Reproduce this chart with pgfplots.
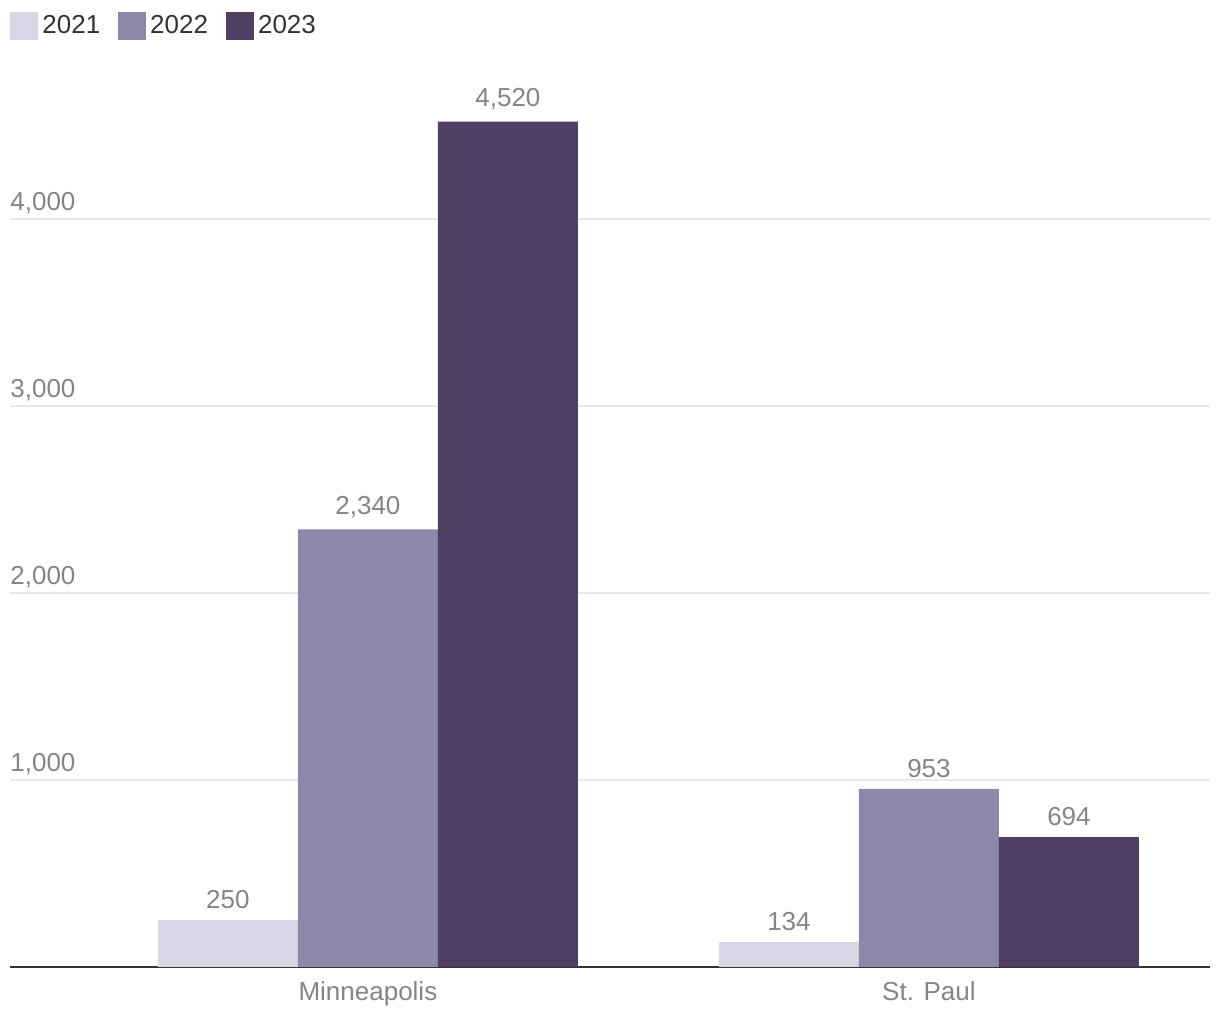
\documentclass[border=0pt]{standalone}
\usepackage{fontspec}
\setmainfont{Liberation Sans}
\usepackage{pgfplots}
\pgfplotsset{compat=1.18}
\definecolor{c21}{HTML}{D9D7E5}
\definecolor{c22}{HTML}{8D87A8}
\definecolor{c23}{HTML}{4E3F63}
\definecolor{txtGray}{HTML}{858585}
\definecolor{gridGray}{HTML}{E8E8E8}
\definecolor{axisDark}{HTML}{333333}

\begin{document}
\begin{tikzpicture}
\useasboundingbox (0,0) rectangle (610pt,510pt);
\begin{axis}[
    at={(5pt,26.5pt)}, anchor=south west,
    scale only axis,
    width=600pt, height=453.5pt,
    ybar=0pt, bar width=70pt,
    xmin=-0.638, xmax=1.501,
    ymin=0, ymax=4850,
    xtick={0,1},
    xticklabels={Minneapolis,St. Paul},
    ytick={1000,2000,3000,4000},
    major tick length=0pt,
    axis x line=bottom, axis y line=left,
    x axis line style={axisDark, line width=1pt, -},
    y axis line style={draw=none},
    ymajorgrids,
    grid style={gridGray, line width=0.9pt},
    /pgf/number format/assume math mode=true,
    /pgf/number format/1000 sep={,},
    tick label style={font=\fontsize{13}{15}\selectfont, text=txtGray},
    yticklabel style={anchor=south west, inner xsep=0pt, inner ysep=2.5pt, xshift=0pt},
    xticklabel style={yshift=-4pt},
    nodes near coords,
    nodes near coords style={font=\fontsize{13}{15}\selectfont, text=txtGray, inner ysep=5.5pt},
    every node near coord/.append style={/pgf/number format/assume math mode=true, /pgf/number format/1000 sep={,}},
    legend columns=3,
    legend style={at={(0,1)}, anchor=south west, yshift=7.5pt, draw=none, fill=none,
      font=\fontsize{13}{15}\selectfont, text=axisDark, inner xsep=0pt,
      /tikz/every even column/.append style={column sep=7pt}},
    legend image code/.code={\fill[#1] (0pt,-7pt) rectangle (14pt,7pt);},
]
\addplot[fill=c21, draw=none] coordinates {(0,250) (1,134)};
\addplot[fill=c22, draw=none] coordinates {(0,2340) (1,953)};
\addplot[fill=c23, draw=none] coordinates {(0,4520) (1,694)};
\legend{2021,2022,2023}
\end{axis}
\end{tikzpicture}
\end{document}
